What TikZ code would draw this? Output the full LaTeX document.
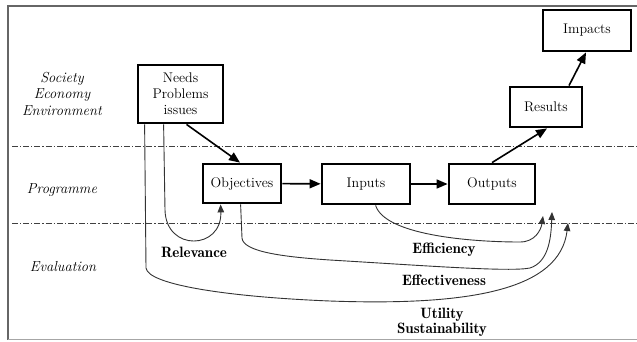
\documentclass[tikz,border=0pt]{standalone}
\usepackage{fontspec}
\setmainfont{Latin Modern Roman}
\newfontfamily\demifont{Latin Modern Roman Demi}
\usetikzlibrary{arrows.meta}
\begin{document}
\begin{tikzpicture}[x=1pt,y=-1pt,
  box/.style={draw=black,line width=2.8pt,fill=white,inner sep=0pt,font=\fontsize{14}{16}\selectfont,align=center},
  lbl/.style={font=\fontsize{14.5}{16}\selectfont\itshape,align=center},
  clbl/.style={font=\demifont\fontsize{15}{15.5}\selectfont,align=center},
  thick arrow/.style={line width=1.6pt,-{Triangle[length=11pt,width=9pt]}},
  thin arrow/.style={draw=black!80,line width=0.9pt,-{Triangle[length=8pt,width=6.5pt]}},
  sep/.style={draw=black!75,line width=0.8pt,dash pattern=on 6pt off 2pt on 1.2pt off 2pt}
]
\useasboundingbox (0,0) rectangle (637,341);
% frame
\draw[black!60,line width=1.6pt] (637,6) -- (8,6) -- (8,340);
\draw[black!35,line width=1pt] (8,339.5) -- (637,339.5);
% separators
\coordinate (s1a) at (12,146); \coordinate (s1b) at (637,146);
\coordinate (s2a) at (12,223); \coordinate (s2b) at (637,223);
\draw[sep] (s1a) -- (s1b);
\draw[sep] (s2a) -- (s2b);
% side labels
\node[lbl] (soc) at (62,79) {Society};
\node[lbl] (eco) at (62,95) {Economy};
\node[lbl] (env) at (62,111) {Environment};
\node[lbl] (prog) at (62,190) {Programme};
\node[lbl] (eval) at (63,267) {Evaluation};
% boxes
\node[box,minimum width=85pt,minimum height=58pt] (needs) at (180.5,94) {Needs\\Problems\\issues};
\node[box,minimum width=78pt,minimum height=39pt] (obj) at (242,183.5) {Objectives};
\node[box,minimum width=88pt,minimum height=40pt] (inp) at (366,184) {Inputs};
\node[box,minimum width=86pt,minimum height=40pt] (out) at (492,184) {Outputs};
\node[box,minimum width=72pt,minimum height=40pt] (res) at (546,107) {Results};
\node[box,minimum width=88pt,minimum height=41pt] (imp) at (587,30.5) {Impacts};
% thick arrows
\draw[thick arrow] ([xshift=6pt]needs.south) -- ([xshift=-2pt]obj.north);
\draw[thick arrow] (obj) -- (inp);
\draw[thick arrow] (inp) -- (out);
\draw[thick arrow] ([xshift=0pt]out.north) -- ([xshift=1pt]res.south);
\draw[thick arrow] ([xshift=23pt]res.north) -- ([xshift=-1pt]imp.south);
% thin evaluation curves
\coordinate (relend) at ([xshift=19pt]obj.south west);
\draw[thin arrow] ([xshift=27pt]needs.south west) -- (165,210)
  .. controls (166,252) and (222,250) .. (relend);
\coordinate (effend) at (543,216);
\draw[thin arrow] ([xshift=55pt]inp.south west)
  .. controls (385,235) and (470,242) .. (520,242)
  .. controls (535,242) and (541,230) .. (effend);
\coordinate (efvend) at (552,212);
\draw[thin arrow] ([xshift=39pt]obj.south west) -- (242,238)
  .. controls (243,252) and (285,257) .. (330,260)
  .. controls (430,266) and (510,272) .. (530,268)
  .. controls (548,262) and (551,240) .. (efvend);
\coordinate (utend) at (568,223);
\draw[thin arrow] ([xshift=8pt]needs.south west) -- (146,268)
  .. controls (148,285) and (230,297) .. (330,301)
  .. controls (470,306) and (560,290) .. (utend);
% curve labels
\node[clbl] (rel) at (194,252) {Relevance};
\node[clbl] (effi) at (444,250) {Efficiency};
\node[clbl] (effe) at (444,280) {Effectiveness};
\node[clbl] (util) at (442,322.5) {Utility\\Sustainability};
\end{tikzpicture}
\end{document}
